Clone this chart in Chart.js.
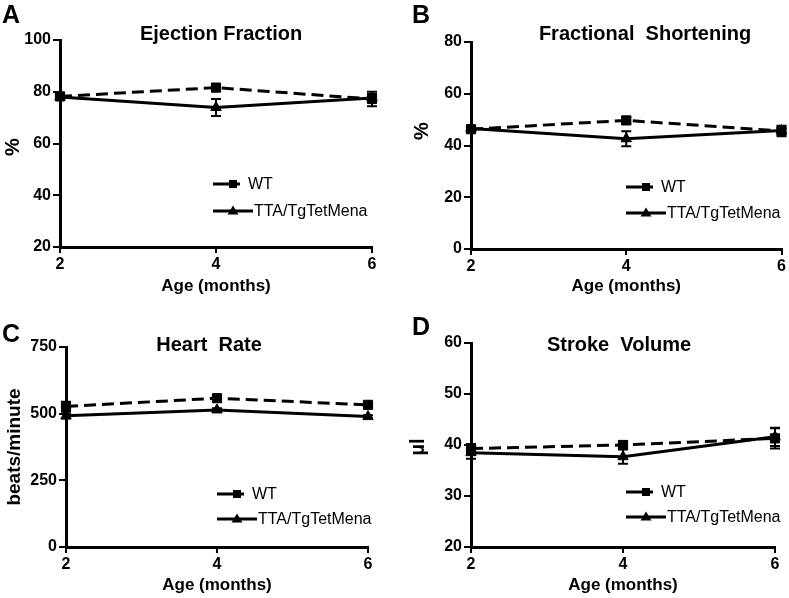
<!DOCTYPE html>
<html>
<head>
<meta charset="utf-8">
<script src="https://cdn.jsdelivr.net/npm/chart.js@4"></script>
<style>
  body { margin: 0; background: #fff; }
  #page { position: relative; width: 789px; height: 598px; background: #fff; overflow: hidden; }
  canvas { position: absolute; }
</style>
</head>
<body>
<div id="page">
  <canvas id="chartA" width="394" height="299" style="left:0px;top:0px"></canvas>
  <canvas id="chartB" width="394" height="299" style="left:395px;top:0px"></canvas>
  <canvas id="chartC" width="394" height="299" style="left:0px;top:299px"></canvas>
  <canvas id="chartD" width="394" height="299" style="left:395px;top:299px"></canvas>
</div>
<script>
// ---- data ----
const months = [2, 4, 6]
const seriesNames = ['WT', 'TTA/TgTetMena']

// A - ejection fraction (%)
const wtEF = [78.2, 81.6, 77.2]
const wtEFErr = [1.2, 1.3, 2.8]
const ttaEF = [78.0, 73.9, 77.6]
const ttaEFErr = [1.0, 3.3, 1.5]

// B - fractional shortening (%)
const wtFS = [46.3, 49.7, 45.6]
const wtFSErr = [1.0, 1.3, 2.0]
const ttaFS = [46.6, 42.6, 45.8]
const ttaFSErr = [0.8, 2.9, 1.0]

// C - heart rate (beats/minute)
const wtHR = [527, 558, 533]
const wtHRErr = [18, 8, 6]
const ttaHR = [492, 514, 489]
const ttaHRErr = [10, 6, 5]

// D - stroke volume (µl)
const wtSV = [39.3, 40.0, 41.3]
const wtSVErr = [0.9, 0.8, 2.0]
const ttaSV = [38.5, 37.7, 41.6]
const ttaSVErr = [1.2, 1.4, 1.8]

const FONT = "'Liberation Sans', Arial, Helvetica, sans-serif"

// error bars drawn through the chart's own scales
const errorBars = {
    id: 'errorBars',
    afterDatasetsDraw(chart) {
        const ctx = chart.ctx
        const xs = chart.scales.x
        const ys = chart.scales.y
        ctx.save()
        ctx.strokeStyle = '#000'
        ctx.lineWidth = 2
        chart.data.datasets.forEach((ds) => {
            ds.data.forEach((pt, i) => {
                const e = ds.errors[i]
                const x = xs.getPixelForValue(pt.x)
                const yTop = ys.getPixelForValue(pt.y + e)
                const yBot = ys.getPixelForValue(pt.y - e)
                ctx.beginPath()
                ctx.moveTo(x, yTop); ctx.lineTo(x, yBot)
                ctx.moveTo(x - 5, yTop); ctx.lineTo(x + 5, yTop)
                ctx.moveTo(x - 5, yBot); ctx.lineTo(x + 5, yBot)
                ctx.stroke()
            })
        })
        ctx.restore()
    }
}

// panel letter, title, y title and the in-plot legend
const panelText = {
    id: 'panelText',
    afterDraw(chart, args, o) {
        const ctx = chart.ctx
        ctx.save()
        ctx.fillStyle = '#000'
        ctx.textBaseline = 'alphabetic'

        ctx.font = 'bold 25px ' + FONT
        ctx.textAlign = 'left'
        ctx.fillText(o.letter, o.letterX, o.letterY)

        ctx.font = 'bold 20px ' + FONT
        ctx.textAlign = 'center'
        ctx.fillText(o.title, o.titleX, o.titleY)

        ctx.save()
        ctx.translate(o.yTitleX, o.yTitleY)
        ctx.rotate(-Math.PI / 2)
        ctx.font = 'bold ' + o.yTitleSize + 'px ' + FONT
        ctx.textBaseline = 'middle'
        ctx.fillText(o.yTitle, 0, 0)
        ctx.restore()

        // legend
        const lx = o.legendX
        ctx.strokeStyle = '#000'
        ctx.lineWidth = 3
        ctx.beginPath()
        ctx.moveTo(lx, o.legendY1); ctx.lineTo(lx + 27, o.legendY1)
        ctx.moveTo(lx, o.legendY2); ctx.lineTo(lx + 40, o.legendY2)
        ctx.stroke()
        ctx.fillRect(lx + 16, o.legendY1 - 4, 8, 8)
        ctx.beginPath()
        ctx.moveTo(lx + 20, o.legendY2 - 5.5)
        ctx.lineTo(lx + 25.5, o.legendY2 + 3.5)
        ctx.lineTo(lx + 14.5, o.legendY2 + 3.5)
        ctx.closePath()
        ctx.fill()
        ctx.font = '16px ' + FONT
        ctx.textAlign = 'left'
        ctx.textBaseline = 'middle'
        ctx.fillText(seriesNames[0], lx + 35, o.legendY1 + 1)
        ctx.fillText(seriesNames[1], lx + 41, o.legendY2 + 1)
        ctx.restore()
    }
}

function toPoints(values) {
    return values.map((v, i) => ({ x: months[i], y: v }))
}

function makePanel(id, p) {
    const canvas = document.getElementById(id)
    const W = canvas.width
    const H = canvas.height
    const tickFont = { family: FONT, size: 16, weight: 'bold' }
    return new Chart(canvas.getContext('2d'), {
        type: 'line',
        data: {
            datasets: [
                {
                    label: seriesNames[0],
                    data: toPoints(p.wt),
                    errors: p.wtErr,
                    borderColor: '#000',
                    backgroundColor: '#000',
                    borderWidth: 3,
                    borderDash: [12, 6],
                    pointStyle: 'rect',
                    pointRadius: 6.5,
                    pointBorderWidth: 1,
                    tension: 0,
                    clip: false
                },
                {
                    label: seriesNames[1],
                    data: toPoints(p.tta),
                    errors: p.ttaErr,
                    borderColor: '#000',
                    backgroundColor: '#000',
                    borderWidth: 3,
                    pointStyle: 'triangle',
                    pointRadius: 6,
                    pointBorderWidth: 1,
                    tension: 0,
                    clip: false
                }
            ]
        },
        options: {
            responsive: false,
            animation: false,
            events: [],
            layout: { padding: { top: p.area.top, right: W - p.area.right, left: 0, bottom: 0 } },
            plugins: {
                legend: { display: false },
                tooltip: { enabled: false },
                panelText: p.text
            },
            scales: {
                x: {
                    type: 'linear',
                    min: 2,
                    max: 6,
                    ticks: { stepSize: 2, color: '#000', font: tickFont, padding: 2 },
                    grid: { drawOnChartArea: false, color: '#000', tickLength: 6, lineWidth: 2 },
                    border: { color: '#000', width: 3 },
                    title: {
                        display: true,
                        text: 'Age (months)',
                        color: '#000',
                        font: { family: FONT, size: 17, weight: 'bold' },
                        padding: { top: 0, bottom: 2 }
                    },
                    afterFit: (s) => { s.height = H - p.area.bottom }
                },
                y: {
                    min: p.yMin,
                    max: p.yMax,
                    ticks: { stepSize: p.yStep, color: '#000', font: tickFont, padding: 2 },
                    grid: { drawOnChartArea: false, color: '#000', tickLength: 7, lineWidth: 2 },
                    border: { color: '#000', width: 3 },
                    afterFit: (s) => { s.width = p.area.left }
                }
            }
        },
        plugins: [errorBars, panelText]
    })
}

/*** A ***/
makePanel('chartA', {
    wt: wtEF, wtErr: wtEFErr, tta: ttaEF, ttaErr: ttaEFErr,
    yMin: 20, yMax: 100, yStep: 20,
    area: { left: 60, right: 372, top: 40, bottom: 247 },
    text: {
        letter: 'A', letterX: 2, letterY: 23,
        title: 'Ejection Fraction', titleX: 221, titleY: 40,
        yTitle: '%', yTitleX: 13, yTitleY: 147, yTitleSize: 20,
        legendX: 213, legendY1: 184, legendY2: 211
    }
})

/*** B ***/
makePanel('chartB', {
    wt: wtFS, wtErr: wtFSErr, tta: ttaFS, ttaErr: ttaFSErr,
    yMin: 0, yMax: 80, yStep: 20,
    area: { left: 76, right: 387, top: 42, bottom: 249 },
    text: {
        letter: 'B', letterX: 17, letterY: 23,
        title: 'Fractional  Shortening', titleX: 250, titleY: 40,
        yTitle: '%', yTitleX: 27, yTitleY: 131, yTitleSize: 20,
        legendX: 231, legendY1: 187, legendY2: 213
    }
})

/*** C ***/
makePanel('chartC', {
    wt: wtHR, wtErr: wtHRErr, tta: ttaHR, ttaErr: ttaHRErr,
    yMin: 0, yMax: 750, yStep: 250,
    area: { left: 66, right: 368, top: 48, bottom: 248 },
    text: {
        letter: 'C', letterX: 2, letterY: 43,
        title: 'Heart  Rate', titleX: 209, titleY: 52,
        yTitle: 'beats/minute', yTitleX: 15, yTitleY: 148, yTitleSize: 19,
        legendX: 217, legendY1: 195, legendY2: 220
    }
})

/*** D ***/
makePanel('chartD', {
    wt: wtSV, wtErr: wtSVErr, tta: ttaSV, ttaErr: ttaSVErr,
    yMin: 20, yMax: 60, yStep: 10,
    area: { left: 76, right: 380, top: 44, bottom: 248 },
    text: {
        letter: 'D', letterX: 17, letterY: 36,
        title: 'Stroke  Volume', titleX: 224, titleY: 52,
        yTitle: 'µl', yTitleX: 23, yTitleY: 148, yTitleSize: 20,
        legendX: 231, legendY1: 193, legendY2: 218
    }
})
</script>
</body>
</html>
